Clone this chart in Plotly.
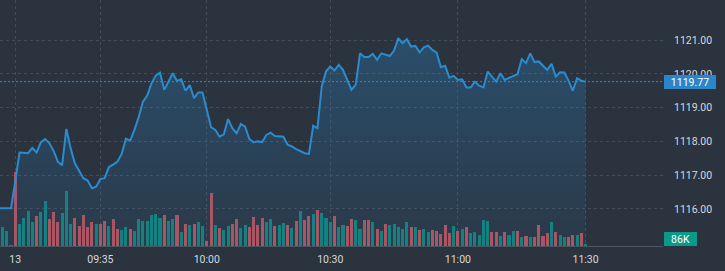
import plotly.graph_objects as go

# ---------------- data (one entry per 1-minute bar) ----------------
bar_index = list(range(-1, 138))

close = [1116.02,
         1116.02, 1116.02, 1116.02, 1116.82, 1117.67, 1117.66, 1117.65, 1117.81, 1117.67, 1117.97,
         1118.07, 1117.95, 1117.72, 1117.40, 1117.29, 1118.37, 1117.80, 1117.35, 1117.11, 1116.91,
         1116.84, 1116.61, 1116.66, 1116.89, 1116.91, 1117.24, 1117.31, 1117.40, 1117.63, 1118.08,
         1118.02, 1118.34, 1118.72, 1119.18, 1119.36, 1119.72, 1119.95, 1120.04, 1119.53, 1119.79,
         1120.02, 1119.79, 1119.84, 1119.50, 1119.67, 1119.28, 1119.45, 1119.45, 1118.93, 1118.42,
         1118.34, 1118.14, 1118.21, 1118.66, 1118.39, 1118.24, 1118.52, 1118.44, 1118.07, 1117.97,
         1118.00, 1117.98, 1118.19, 1118.26, 1118.16, 1118.16, 1118.14, 1117.90, 1117.85, 1117.77,
         1117.70, 1117.65, 1117.63, 1118.46, 1118.39, 1119.62, 1120.07, 1120.22, 1120.10, 1120.27,
         1120.12, 1119.82, 1119.53, 1119.68, 1120.61, 1120.50, 1120.50, 1120.59, 1120.42, 1120.61,
         1120.56, 1120.53, 1120.69, 1121.06, 1120.91, 1121.03, 1120.81, 1120.83, 1120.64, 1120.79,
         1120.84, 1120.71, 1120.63, 1120.20, 1120.24, 1119.89, 1119.94, 1119.82, 1119.84, 1119.60,
         1119.60, 1119.77, 1119.65, 1119.60, 1120.07, 1119.92, 1119.77, 1120.02, 1119.82, 1119.88,
         1119.94, 1119.99, 1120.44, 1120.32, 1120.61, 1120.35, 1120.37, 1120.25, 1120.12, 1120.30,
         1119.92, 1120.05, 1120.04, 1119.80, 1119.50, 1119.87, 1119.80, 1119.77]

volume_k = [600,
            760, 600, 40, 2960, 880, 1120, 1400, 960, 1200, 1360, 1800, 1080, 1360, 960, 1320, 2200,
            880, 1120, 800, 1240, 760, 960, 880, 880, 1000, 800, 1080, 680, 640, 760, 680, 600,
            1080, 1000, 1000, 1240, 1280, 1120, 1240, 1000, 1080, 1240, 560, 880, 840, 880, 960,
            800, 200, 2120, 840, 720, 640, 800, 880, 1080, 720, 840, 760, 1160, 840, 1120, 960,
            1080, 800, 840, 920, 840, 720, 1000, 1400, 1040, 1200, 1280, 1440, 1320, 1120, 960,
            1200, 760, 840, 800, 1080, 1040, 680, 1040, 1040, 960, 680, 600, 880, 840, 880,
            760, 680, 960, 760, 760, 640, 680, 560, 640, 600, 480, 840, 520, 800, 600, 680,
            760, 520, 560, 440, 1040, 1000, 560, 560, 400, 560, 440, 600, 600, 360, 400, 360,
            360, 840, 400, 520, 960, 560, 440, 360, 360, 440, 440, 520, 86]

is_up = [1,
         1, 1, 1, 0, 1, 1, 1, 1, 0, 1, 1, 0, 0, 0, 1, 1, 1, 0, 0, 0, 0, 0, 1, 0, 0, 1, 0, 0, 1, 1,
         0, 1, 1, 1, 1, 1, 1, 1, 0, 1, 1, 0, 1, 0, 1, 0, 1,
         1, 0, 0, 1, 0, 1, 1, 0, 0, 1, 1, 0, 0, 0, 0, 1, 1, 0, 1, 1, 0, 1, 0, 1, 0, 0, 1, 0, 1, 1,
         1, 0, 1, 1, 0, 0, 1, 1, 0, 0, 1, 0, 1, 0, 1, 1,
         1, 1, 1, 0, 1, 0, 1, 1, 0, 0, 0, 0, 0, 1, 0, 1, 0, 1, 1, 1, 1, 1, 0, 0, 1, 0, 1, 1, 0, 1,
         0, 1, 0, 0, 0, 0, 1, 0, 1, 1, 0, 0, 1, 0, 1]

tick_bar = [3, 23, 48, 77, 107, 137]
tick_text = ["13", "09:35", "10:00", "10:30", "11:00", "11:30"]
price_ticks = [1116, 1117, 1118, 1119, 1120, 1121]
last_price = close[-1]
last_volume_text = "86K"

# ---------------- style ----------------
BG = "#2a333e"
GRID = "#434b57"
LINE = "#2b8bcf"
UP = "#12807a"
DOWN = "#b5505a"
TXT = "#d6d9de"
FONT = "Roboto, Liberation Sans, Arial, sans-serif"

fig = go.Figure()

fig.add_trace(go.Bar(
    x=bar_index, y=volume_k, yaxis="y",
    marker=dict(color=[UP if u else DOWN for u in is_up], line=dict(width=0)),
    width=0.72, hoverinfo="skip", showlegend=False,
))

fig.add_trace(go.Scatter(
    x=bar_index, y=close, yaxis="y2", mode="lines",
    line=dict(color=LINE, width=2),
    fill="tozeroy",
    fillgradient=dict(type="vertical",
                      colorscale=[[0, "rgba(44,140,210,0.07)"], [1, "rgba(44,140,210,0.30)"]],
                      start=1114.9, stop=1121.1),
    hoverinfo="skip", showlegend=False,
))

fig.add_shape(type="line", xref="paper", x0=0, x1=1, yref="y2", y0=last_price, y1=last_price,
              line=dict(color=LINE, width=1, dash="2px,2px"), layer="below")

fig.add_annotation(xref="paper", x=1, xanchor="left", xshift=1,
                   yref="y2", y=last_price, yanchor="middle",
                   text=f"{last_price:.2f}", showarrow=False,
                   bgcolor="#2a86c8", width=52, height=14, borderpad=0, borderwidth=0,
                   font=dict(family=FONT, size=10.5, color="#ffffff"))

fig.add_annotation(xref="paper", x=1, xanchor="left", xshift=1,
                   yref="paper", y=0, yanchor="bottom",
                   text=last_volume_text, showarrow=False,
                   bgcolor="#0b9a85", width=33, height=14, borderpad=0, borderwidth=0,
                   font=dict(family=FONT, size=10.5, color="#ffffff"))

fig.update_layout(
    width=725, height=271,
    margin=dict(l=0, r=62, t=0, b=25),
    paper_bgcolor=BG, plot_bgcolor=BG,
    bargap=0,
    font=dict(family=FONT, size=10.5, color=TXT),
    xaxis=dict(range=[-0.59, 155.19], tickmode="array", tickvals=tick_bar, ticktext=tick_text,
               showgrid=True, gridcolor=GRID, griddash="3px,3px", gridwidth=1,
               showline=True, linecolor="#4b5461", linewidth=1,
               ticks="", ticklabelstandoff=3, zeroline=False,
               tickfont=dict(family=FONT, size=10.5, color=TXT)),
    yaxis=dict(range=[0, 9840], visible=False, showgrid=False, zeroline=False),
    yaxis2=dict(range=[1114.90, 1122.19], overlaying="y", side="right",
                tickmode="array", tickvals=price_ticks,
                ticktext=[f"{v:.2f}" for v in price_ticks],
                showgrid=True, gridcolor=GRID, griddash="3px,3px", gridwidth=1,
                zeroline=False, ticks="", ticklabelstandoff=10,
                tickfont=dict(family=FONT, size=10.5, color=TXT)),
)

fig.write_html("out.html", config={"displayModeBar": False})
